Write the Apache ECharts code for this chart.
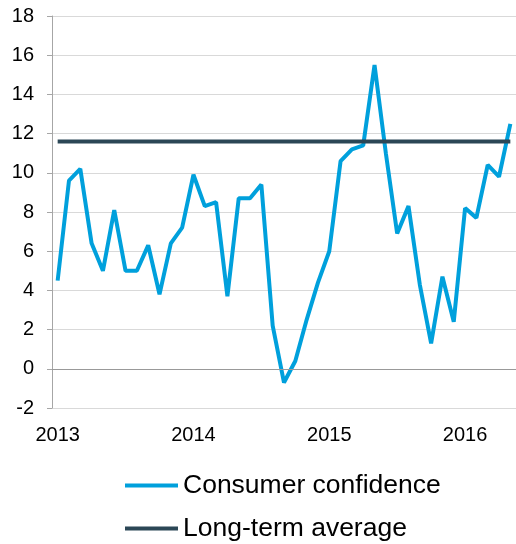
<!DOCTYPE html>
<html>
<head>
<meta charset="utf-8">
<script src="https://cdn.jsdelivr.net/npm/echarts@6/dist/echarts.min.js"></script>
<style>
  html, body { margin: 0; padding: 0; background: #ffffff; }
  #chart { width: 516px; height: 544px; }
</style>
</head>
<body>
<div id="chart"></div>
<script>
// monthly, Jan 2013 .. May 2016
const months = [];
for (let y = 2013; y <= 2016; y++) {
  for (let m = 1; m <= 12; m++) {
    if (y === 2016 && m > 5) break;
    months.push(y + '-' + String(m).padStart(2, '0'));
  }
}

const confidence = [
  4.5, 9.6, 10.2, 6.4, 5.0, 8.1, 5.0, 5.0, 6.3, 3.8, 6.4, 7.2,
  9.9, 8.3, 8.5, 3.7, 8.7, 8.7, 9.4, 2.2, -0.7, 0.4, 2.5, 4.4,
  6.0, 10.6, 11.2, 11.4, 15.5, 11.0, 6.9, 8.3, 4.3, 1.3, 4.7, 2.4,
  8.2, 7.7, 10.4, 9.8, 12.5
];
const longTermAverage = 11.6;
const yearTicks = ['2013-01', '2014-01', '2015-01', '2016-01'];

const chart = echarts.init(document.getElementById('chart'));
const font = 'Liberation Sans, Arial, sans-serif';

function legendItem(name, top) {
  return {
    left: 125,
    top: top,
    padding: 0,
    icon: 'rect',
    itemWidth: 53,
    itemHeight: 4,
    textStyle: { fontSize: 26.5, color: '#000000', fontFamily: font },
    data: [name]
  };
}

chart.setOption({
  animation: false,
  backgroundColor: '#ffffff',
  textStyle: { fontFamily: font },
  grid: { left: 52, top: 16, width: 467, height: 392 },
  legend: [
    legendItem('Consumer confidence', 472),
    legendItem('Long-term average', 515)
  ],
  xAxis: {
    type: 'category',
    data: months,
    boundaryGap: true,
    axisLine: { show: false },
    axisTick: { show: false },
    axisLabel: {
      interval: (i, v) => yearTicks.includes(v),
      formatter: (v) => v.slice(0, 4),
      fontSize: 20,
      color: '#000000',
      margin: 17
    },
    splitLine: { show: false }
  },
  yAxis: {
    type: 'value',
    min: -2,
    max: 18,
    interval: 2,
    axisLine: { show: true, lineStyle: { color: '#a6a6a6', width: 1 } },
    axisTick: { show: true, length: 5, lineStyle: { color: '#a6a6a6' } },
    axisLabel: { fontSize: 20, color: '#000000', margin: 18 },
    splitLine: { lineStyle: { color: '#d9d9d9', width: 1 } }
  },
  series: [
    {
      name: 'Consumer confidence',
      type: 'line',
      data: confidence,
      symbol: 'none',
      color: '#00a0dc',
      lineStyle: { width: 4, color: '#00a0dc' },
      markLine: {
        silent: true,
        symbol: ['none', 'none'],
        label: { show: false },
        lineStyle: { color: '#999999', type: 'solid', width: 1 },
        data: [{ yAxis: 0 }]
      }
    },
    {
      name: 'Long-term average',
      type: 'line',
      data: months.map(() => longTermAverage),
      symbol: 'none',
      color: '#2b4756',
      lineStyle: { width: 4, color: '#2b4756' }
    }
  ]
});
</script>
</body>
</html>
